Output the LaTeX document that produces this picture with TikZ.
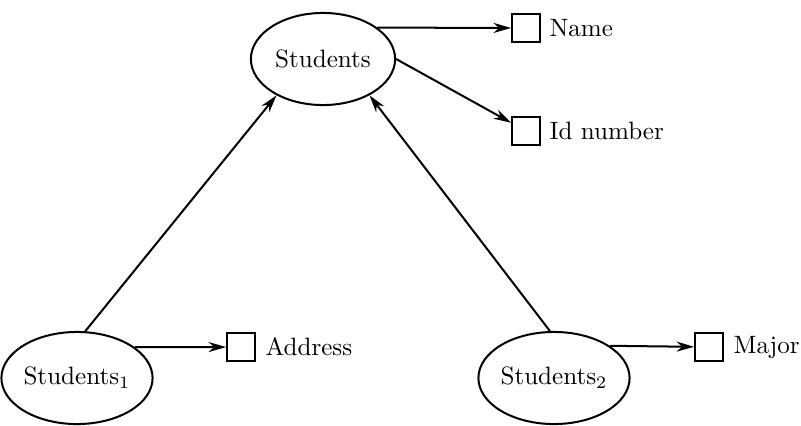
\documentclass[tikz,border=0pt]{standalone}
\usetikzlibrary{shapes.geometric,arrows.meta}

\begin{document}
\begin{tikzpicture}[x=0.014cm,y=-0.014cm,
    ent/.style={draw,thick,ellipse,inner sep=0pt,minimum width=2.02cm,minimum height=1.29cm},
    att/.style={draw,thick,rectangle,inner sep=0pt,minimum size=0.39cm},
    lbl/.style={anchor=west,inner sep=0pt},
    >={Stealth[length=7pt,width=4pt]}]
        \useasboundingbox (0,0) rectangle (801,425);

        \node[ent] (s) at (323,59) {Students};
        \node[ent] (s1) at (77,378) {Students$_1$};
        \node[ent] (s2) at (554,378) {Students$_2$};

        \node[att] (name) at (526,28) {};
        \node[att] (id) at (526,131) {};
        \node[att] (addr) at (241,347) {};
        \node[att] (major) at (709,347) {};

        \node[lbl] (namet) at (549,28) {Name};
        \node[lbl] (idt) at (549,131) {Id number};
        \node[lbl] (addrt) at (265,347) {Address};
        \node[lbl] (majort) at (733,347) {Major};

        %\path[draw,thick,->] (s1) -- (s);
        \path[draw,thick,->] (s1.80) -- (s.218);
        \path[draw,thick,->] (s2.95) -- (s.322);
        \path[draw,thick,->] (s.30) -- (name);
        \path[draw,thick,->] (s.east) -- (id);
        \path[draw,thick,->] (s1.28) -- (addr);
        \path[draw,thick,->] (s2.30) -- (major);
    \end{tikzpicture}
\end{document}
